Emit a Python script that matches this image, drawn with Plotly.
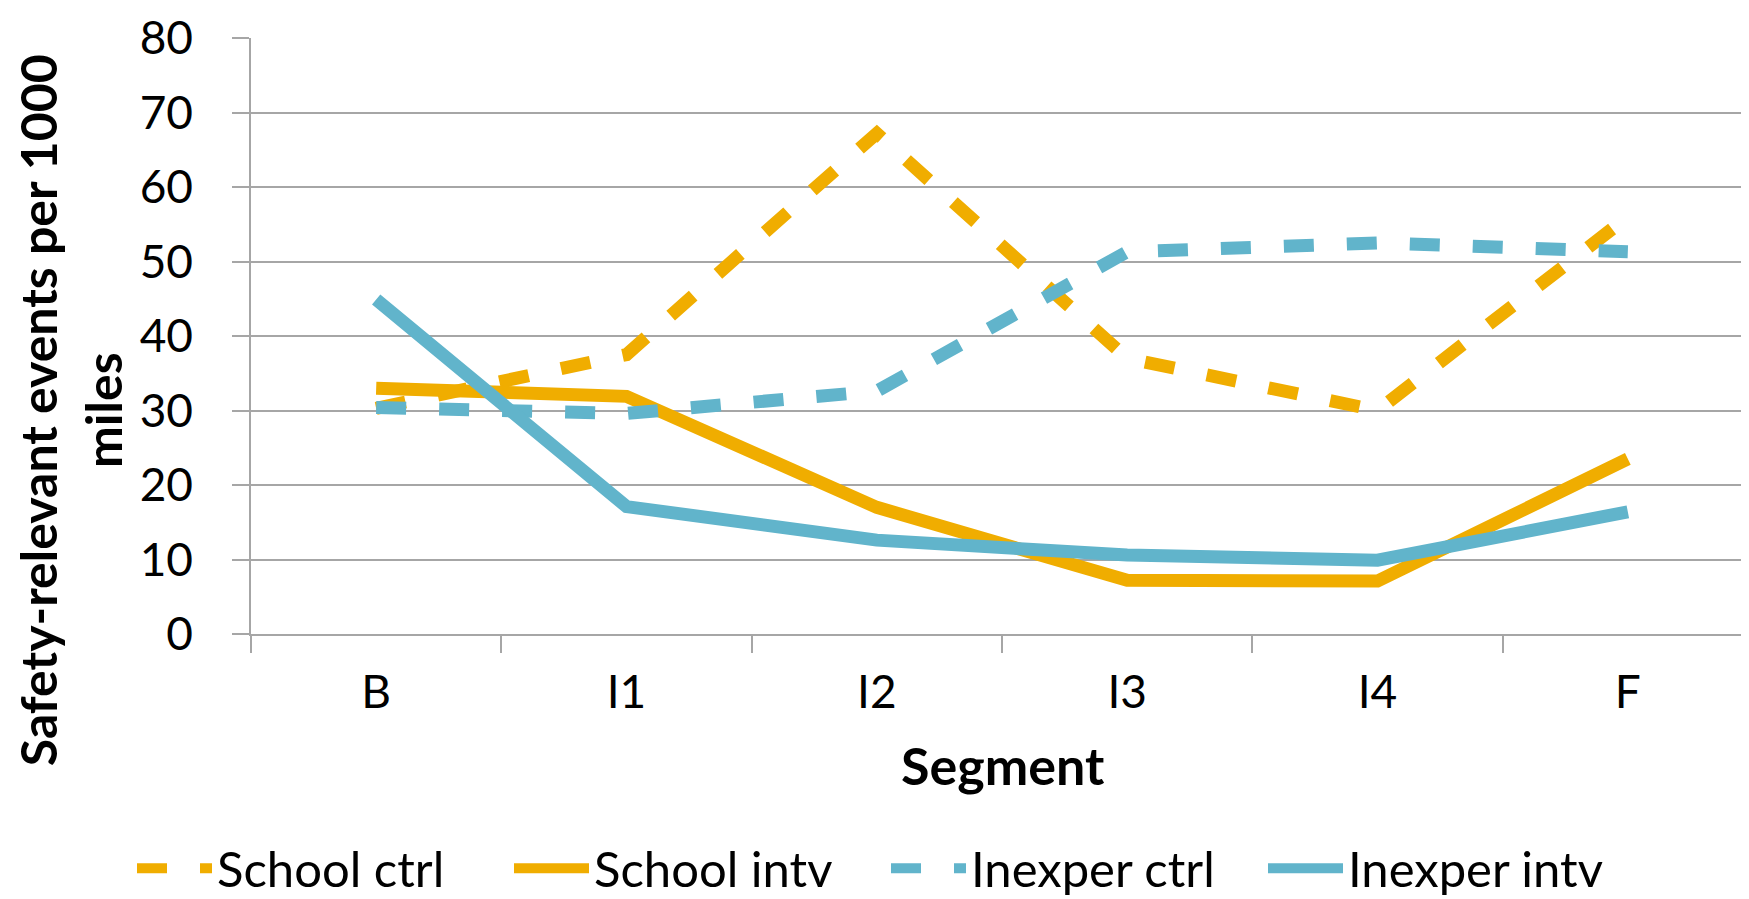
import plotly.graph_objects as go

segments = ["B", "I1", "I2", "I3", "I4", "F"]
school_ctrl = [30.3, 37.5, 67.2, 37.0, 30.0, 56.0]
school_intv = [33.0, 31.9, 17.0, 7.2, 7.1, 23.5]
inexper_ctrl = [30.4, 29.6, 32.6, 51.3, 52.5, 51.3]
inexper_intv = [44.9, 17.1, 12.6, 10.6, 9.9, 16.4]

series_names = ["School ctrl", "School intv", "Inexper ctrl", "Inexper intv"]

ORANGE = "#F0AD00"
BLUE = "#61B4CB"
GRID = "#A6A6A6"
FONT = "Lato"

fig = go.Figure()
styles = [
    (school_ctrl, ORANGE, "30px,33px"),
    (school_intv, ORANGE, "solid"),
    (inexper_ctrl, BLUE, "30px,33px"),
    (inexper_intv, BLUE, "solid"),
]
for name, (vals, color, dash) in zip(series_names, styles):
    fig.add_trace(go.Scatter(
        x=segments, y=vals, name=name, mode="lines",
        line=dict(color=color, width=13, dash=dash),
        hoverinfo="x+y+name",
    ))

fig.update_layout(
    width=1749, height=899,
    margin=dict(l=243, r=4, t=30, b=273, autoexpand=False),
    paper_bgcolor="white", plot_bgcolor="white",
    font=dict(family=FONT, size=46, color="black"),
    showlegend=True,
    legend=dict(
        orientation="h", xref="paper", yref="paper",
        x=(124 - 243) / 1502, xanchor="left", y=(625.7 - 860) / 595.7, yanchor="middle",
        font=dict(family=FONT, size=49, color="black"),
        itemwidth=75, entrywidth=287, entrywidthmode="pixels",
        bgcolor="rgba(0,0,0,0)", borderwidth=0, tracegroupgap=0,
    ),
    xaxis=dict(
        type="category", showgrid=False, showline=True, linecolor=GRID, linewidth=1.5,
        ticks="outside", tickson="boundaries", ticklen=17, tickcolor=GRID, tickwidth=1.5,
        tickfont=dict(family=FONT, size=46), ticklabelstandoff=17,
        range=[-0.5, 5.5],
    ),
    yaxis=dict(
        range=[0, 80], dtick=10, showgrid=True, gridcolor=GRID, gridwidth=1.5,
        showline=True, linecolor=GRID, linewidth=1.5, zeroline=False,
        ticks="outside", ticklen=17, tickcolor=GRID, tickwidth=1.5,
        tickfont=dict(family=FONT, size=46), ticklabelstandoff=30,
    ),
    annotations=[
        dict(text="<b>Safety-relevant events per 1000<br>miles</b>", textangle=-90,
             xref="paper", yref="paper", x=(62 - 243) / 1502, y=(625.7 - 402) / 595.7,
             xanchor="center", yanchor="middle", showarrow=False, borderpad=0,
             font=dict(family=FONT, size=50, color="black")),
        dict(text="<b>Segment</b>", xref="paper", yref="paper",
             x=(995 - 243) / 1502, y=(625.7 - 757) / 595.7,
             xanchor="center", yanchor="middle", showarrow=False,
             font=dict(family=FONT, size=52, color="black")),
    ],
)

fig.write_html("out.html")
